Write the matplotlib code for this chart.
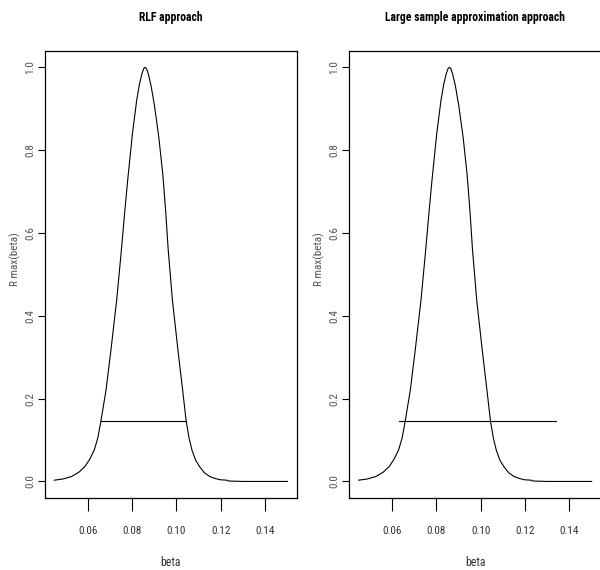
import matplotlib
matplotlib.use("Agg")
import matplotlib.pyplot as plt

# --- Relative likelihood of beta
beta = [0.0450, 0.0490, 0.0528, 0.0560, 0.0588, 0.0610, 0.0630, 0.0646, 0.0660,
        0.0683, 0.0705, 0.0731, 0.0751, 0.0768, 0.0781, 0.0802, 0.0821, 0.0833,
        0.0845, 0.0853, 0.0859, 0.0865, 0.0873, 0.0886, 0.0901, 0.0921, 0.0939,
        0.0952, 0.0963, 0.0982, 0.1007, 0.1028, 0.1044, 0.1057, 0.1070, 0.1086,
        0.1104, 0.1126, 0.1150, 0.1175, 0.1198, 0.1228, 0.1235, 0.1300, 0.1400,
        0.1500]
rmax = [0.003, 0.006, 0.012, 0.022, 0.036, 0.054, 0.076, 0.105, 0.146,
        0.221, 0.317, 0.438, 0.552, 0.655, 0.730, 0.840, 0.920, 0.958,
        0.985, 0.997, 1.000, 0.997, 0.985, 0.955, 0.908, 0.830, 0.740,
        0.650, 0.560, 0.438, 0.317, 0.221, 0.146, 0.105, 0.076, 0.052,
        0.036, 0.021, 0.012, 0.007, 0.004, 0.003, 0.001, 0.000, 0.000,
        0.000]

# --- Confidence interval cut-off lines
cut_level = 0.1465
rlf_ci = [0.0660, 0.1042]
lsa_ci = [0.0630, 0.1341]

titles = ["RLF approach", "Large sample approximation approach"]
intervals = [rlf_ci, lsa_ci]
xticks = [0.06, 0.08, 0.10, 0.12, 0.14]
yticks = [0.0, 0.2, 0.4, 0.6, 0.8, 1.0]

plt.rcParams['font.family'] = ['Roboto Condensed', 'DejaVu Sans']

fig = plt.figure(figsize=(6.0, 5.7), dpi=100)
lefts = [45 / 600, 349.3 / 600]
W, H = 251.7 / 600, 447.3 / 570
B = 1 - 498 / 570

for left, title, ci in zip(lefts, titles, intervals):
    ax = fig.add_axes([left, B, W, H])
    ax.plot(beta, rmax, color='black', lw=0.8)
    ax.plot(ci, [cut_level, cut_level], color='black', lw=0.8)

    xr = max(beta) - min(beta)
    ax.set_xlim(min(beta) - 0.04 * xr, max(beta) + 0.04 * xr)
    ax.set_ylim(-0.04, 1.04)
    ax.set_xticks(xticks)
    ax.set_xticklabels([f"{t:.2f}" for t in xticks])
    ax.set_yticks(yticks)
    ax.set_yticklabels([f"{t:.1f}" for t in yticks], rotation=90, va='center')
    ax.tick_params(axis='x', direction='out', length=9, width=0.8, pad=11,
                   labelsize=8, labelcolor='#333333')
    ax.tick_params(axis='y', direction='out', length=5, width=0.8, pad=2,
                   labelsize=8, labelcolor='#555555')
    for sp in ax.spines.values():
        sp.set_linewidth(0.9)

    ax.text(0.5, 1 + 32.7 / 447.3, title, transform=ax.transAxes,
            ha='center', va='center', fontsize=8.5, fontweight='bold')
    ax.text(0.5, -64.7 / 447.3, "beta", transform=ax.transAxes,
            ha='center', va='center', fontsize=8.5, color='#333333')
    ax.text(-30 / 251.7, 0.534, "R max(beta)", transform=ax.transAxes, rotation=90,
            ha='center', va='center', fontsize=8, color='#555555')

fig.savefig("out.png", dpi=100)
